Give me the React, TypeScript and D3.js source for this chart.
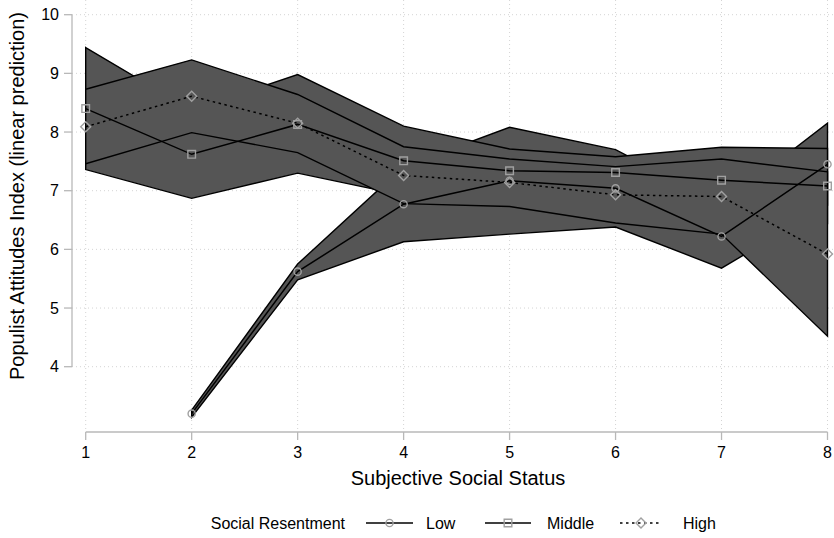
import React, { useEffect, useRef } from 'react';
import * as d3 from 'd3';

const statusLevels = [1, 2, 3, 4, 5, 6, 7, 8];
const yTicks = [4, 5, 6, 7, 8, 9, 10];

// predicted values per resentment group (null = no estimate)
const lowFit = [null, 3.2, 5.62, 6.77, 7.17, 7.04, 6.22, 7.45];
const lowLower = [null, 3.14, 5.48, 6.13, 6.26, 6.38, 5.68, 6.75];
const lowUpper = [null, 3.26, 5.75, 7.41, 8.08, 7.7, 6.76, 8.15];

const midFit = [8.4, 7.62, 8.13, 7.51, 7.34, 7.31, 7.18, 7.08];
const midLower = [7.36, 6.87, 7.3, 6.92, 6.97, 7.04, 6.62, 6.44];
const midUpper = [9.44, 8.37, 8.98, 8.1, 7.71, 7.58, 7.74, 7.72];

const highFit = [8.09, 8.61, 8.15, 7.26, 7.14, 6.93, 6.9, 5.92];
const highLower = [7.46, 7.99, 7.65, 6.78, 6.73, 6.45, 6.26, 4.52];
const highUpper = [8.73, 9.23, 8.64, 7.75, 7.54, 7.41, 7.54, 7.32];

const groups = [
  { name: 'Low', fit: lowFit, lo: lowLower, hi: lowUpper, marker: 'circle', dash: null },
  { name: 'Middle', fit: midFit, lo: midLower, hi: midUpper, marker: 'square', dash: null },
  { name: 'High', fit: highFit, lo: highLower, hi: highUpper, marker: 'diamond', dash: '2.5,3.5' },
];

const FONT = '"Liberation Sans", Arial, Helvetica, sans-serif';
const MARK = '#a0a0a0';

const drawMarker = (g, kind, cx, cy) => {
  if (kind === 'circle') {
    g.append('circle').attr('cx', cx).attr('cy', cy).attr('r', 3.6)
      .attr('fill', 'none').attr('stroke', MARK).attr('stroke-width', 1.4);
  } else {
    const sym = d3.symbol().type(d3.symbolSquare).size(kind === 'square' ? 58 : 50);
    g.append('path').attr('d', sym())
      .attr('transform', `translate(${cx},${cy})` + (kind === 'diamond' ? ' rotate(45)' : ''))
      .attr('fill', 'none').attr('stroke', MARK).attr('stroke-width', 1.4);
  }
};

const App = () => {
  const svgRef = useRef(null);

  useEffect(() => {
    const svg = d3.select(svgRef.current);
    svg.selectAll('*').remove();

    const x = d3.scaleLinear().domain([1, 8]).range([85.7, 827.5]);
    const y = d3.scaleLinear().domain([4, 10]).range([366.7, 14.7]);
    const axisY = 432;
    const axisX = 72;

    // grid
    const grid = svg.append('g');
    yTicks.forEach(t => {
      grid.append('line').attr('x1', axisX).attr('x2', 834).attr('y1', y(t)).attr('y2', y(t))
        .attr('stroke', '#d4d4d4').attr('stroke-width', 1).attr('stroke-dasharray', '1,3');
    });
    statusLevels.forEach(t => {
      grid.append('line').attr('x1', x(t)).attr('x2', x(t)).attr('y1', 0).attr('y2', axisY)
        .attr('stroke', '#d4d4d4').attr('stroke-width', 1).attr('stroke-dasharray', '1,3');
    });

    // confidence bands
    groups.forEach(grp => {
      const rows = statusLevels.map((s, i) => ({ s, lo: grp.lo[i], hi: grp.hi[i] }));
      const area = d3.area()
        .defined(d => d.lo != null)
        .x(d => x(d.s)).y0(d => y(d.lo)).y1(d => y(d.hi));
      const pts = rows.filter(d => d.lo != null);
      const outline = pts.map(d => [x(d.s), y(d.hi)]).concat(pts.slice().reverse().map(d => [x(d.s), y(d.lo)]));
      svg.append('path').attr('d', area(rows)).attr('fill', '#555555');
      svg.append('path').attr('d', d3.line()(outline) + 'Z')
        .attr('fill', 'none').attr('stroke', '#000').attr('stroke-width', 1.4).attr('stroke-linejoin', 'miter');
    });

    // fitted lines and markers
    groups.forEach(grp => {
      const rows = statusLevels.map((s, i) => ({ s, v: grp.fit[i] }));
      const line = d3.line().defined(d => d.v != null).x(d => x(d.s)).y(d => y(d.v));
      svg.append('path').attr('d', line(rows)).attr('fill', 'none')
        .attr('stroke', '#000').attr('stroke-width', 1.5)
        .attr('stroke-dasharray', grp.dash);
      const mg = svg.append('g');
      rows.filter(d => d.v != null).forEach(d => drawMarker(mg, grp.marker, x(d.s), y(d.v)));
    });

    // y axis
    const axG = svg.append('g').attr('font-family', FONT).attr('font-size', 16).attr('fill', '#000');
    axG.append('line').attr('x1', axisX).attr('x2', axisX).attr('y1', y(10)).attr('y2', y(4))
      .attr('stroke', '#b8b8b8').attr('stroke-width', 1.3);
    yTicks.forEach(t => {
      axG.append('line').attr('x1', axisX - 8).attr('x2', axisX).attr('y1', y(t)).attr('y2', y(t))
        .attr('stroke', '#b8b8b8').attr('stroke-width', 1.3);
      axG.append('text').attr('x', axisX - 13).attr('y', y(t)).attr('dy', '0.35em')
        .attr('text-anchor', 'end').text(t);
    });

    // x axis
    axG.append('line').attr('x1', x(1)).attr('x2', x(8)).attr('y1', axisY).attr('y2', axisY)
      .attr('stroke', '#b8b8b8').attr('stroke-width', 1.3);
    statusLevels.forEach(t => {
      axG.append('line').attr('x1', x(t)).attr('x2', x(t)).attr('y1', axisY).attr('y2', axisY + 8)
        .attr('stroke', '#b8b8b8').attr('stroke-width', 1.3);
      axG.append('text').attr('x', x(t)).attr('y', axisY + 20).attr('dy', '0.35em')
        .attr('text-anchor', 'middle').text(t);
    });

    // titles
    svg.append('text').attr('x', 458).attr('y', 478).attr('dy', '0.35em')
      .attr('text-anchor', 'middle').attr('font-family', FONT).attr('font-size', 20)
      .text('Subjective Social Status');
    svg.append('text').attr('transform', 'translate(17,196) rotate(-90)').attr('dy', '0.35em')
      .attr('text-anchor', 'middle').attr('font-family', FONT).attr('font-size', 20)
      .text('Populist Attitudes Index (linear prediction)');

    // legend
    const lg = svg.append('g').attr('font-family', FONT).attr('font-size', 16);
    const ly = 523;
    lg.append('text').attr('x', 345).attr('y', ly).attr('dy', '0.35em')
      .attr('text-anchor', 'end').text('Social Resentment');
    const keys = [
      { x0: 366, x1: 413, tx: 426 },
      { x0: 485, x1: 531, tx: 547 },
      { x0: 620, x1: 662, tx: 683 },
    ];
    groups.forEach((grp, i) => {
      const k = keys[i];
      lg.append('line').attr('x1', k.x0).attr('x2', k.x1).attr('y1', ly).attr('y2', ly)
        .attr('stroke', '#000').attr('stroke-width', 1.5).attr('stroke-dasharray', grp.dash);
      drawMarker(lg, grp.marker, (k.x0 + k.x1) / 2, ly);
      lg.append('text').attr('x', k.tx).attr('y', ly).attr('dy', '0.35em').text(grp.name);
    });
  }, []);

  return (
    <svg ref={svgRef} width="834" height="538"
      style={{ position: 'absolute', left: 0, top: 0, background: '#fff' }}>
    </svg>
  );
};

export default App;
